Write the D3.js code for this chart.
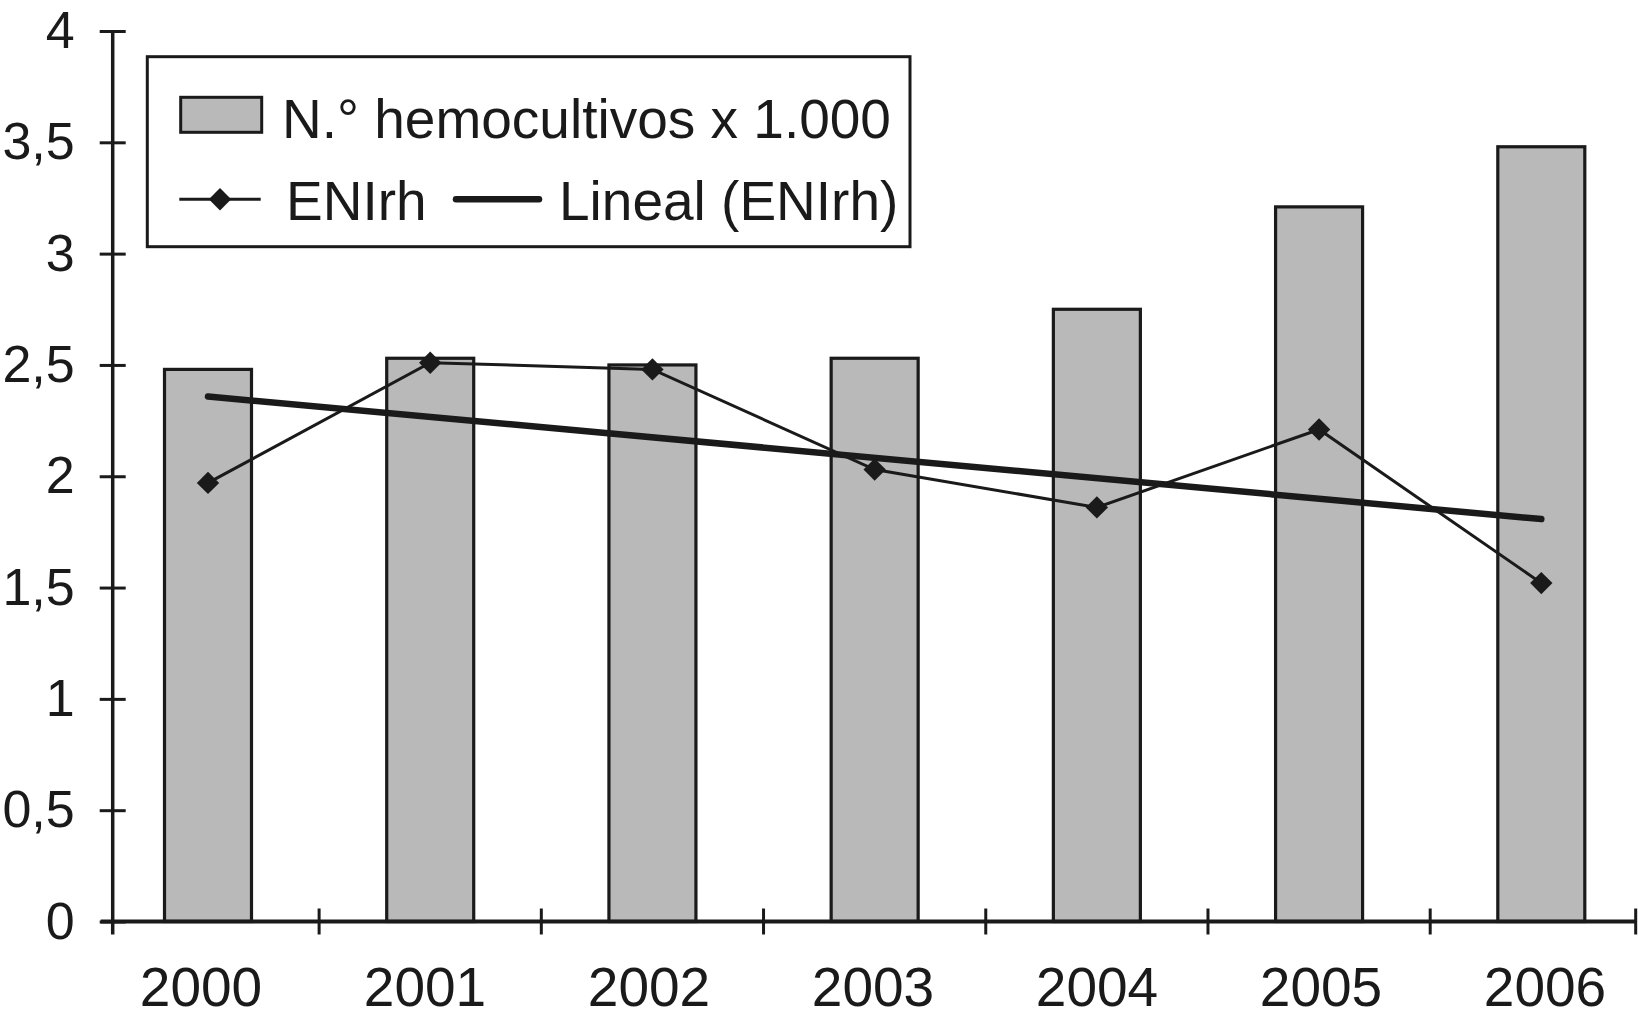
<!DOCTYPE html>
<html>
<head>
<meta charset="utf-8">
<script src="https://cdn.jsdelivr.net/npm/d3@7"></script>
<style>
  html, body { margin: 0; padding: 0; background: #fff; }
  svg { display: block; }
  text { font-family: "Liberation Sans", Arial, sans-serif; fill: #1a1a1a; }
</style>
</head>
<body>
<svg id="chart" width="1638" height="1023"></svg>
<script>
// ---- data ----
const years = ["2000", "2001", "2002", "2003", "2004", "2005", "2006"];
const hemocultivos = [2.48, 2.53, 2.50, 2.53, 2.75, 3.21, 3.48];
const enirh = [1.97, 2.51, 2.48, 2.03, 1.86, 2.21, 1.52];
const yTickValues = [0, 0.5, 1, 1.5, 2, 2.5, 3, 3.5, 4];
const yTickLabels = ["0", "0,5", "1", "1,5", "2", "2,5", "3", "3,5", "4"];
const legendLabels = ["N.° hemocultivos x 1.000", "ENIrh", "Lineal (ENIrh)"];

// ---- layout ----
const ink = "#1a1a1a";
const barFill = "#b9b9b9";
const fontSize = 55;
const yFontSize = 52;
const axisLeftX = 112.7, axisRightX = 1635.7, axisStartX = 100.7;

const svg = d3.select("#chart");

const x = d3.scalePoint().domain(years).range([208, 1541.3]);
const xLabel = d3.scalePoint().domain(years).range([201, 1545]);
const y = d3.scaleLinear().domain([0, 4]).range([921.5, 31]);
const barW = 87;

// bars
svg.append("g").selectAll("rect").data(years).join("rect")
  .attr("x", d => x(d) - barW / 2)
  .attr("y", (d, i) => y(hemocultivos[i]))
  .attr("width", barW)
  .attr("height", (d, i) => y(0) - y(hemocultivos[i]))
  .attr("fill", barFill)
  .attr("stroke", ink)
  .attr("stroke-width", 3.2);

// linear trend (least squares of ENIrh)
const n = enirh.length;
const idx = d3.range(n);
const mx = d3.mean(idx), my = d3.mean(enirh);
const slope = d3.sum(idx, i => (i - mx) * (enirh[i] - my)) / d3.sum(idx, i => (i - mx) * (i - mx));
const intercept = my - slope * mx;
svg.append("line")
  .attr("x1", x(years[0])).attr("y1", y(intercept))
  .attr("x2", x(years[n - 1])).attr("y2", y(intercept + slope * (n - 1)))
  .attr("stroke", ink).attr("stroke-width", 6.5).attr("stroke-linecap", "round");

// ENIrh line
const line = d3.line().x((d, i) => x(years[i])).y(d => y(d));
svg.append("path").datum(enirh)
  .attr("d", line)
  .attr("fill", "none").attr("stroke", ink).attr("stroke-width", 3);

const diamond = d3.symbol().type(d3.symbolSquare).size(250);
svg.append("g").selectAll("path").data(enirh).join("path")
  .attr("d", diamond)
  .attr("transform", (d, i) => `translate(${x(years[i])},${y(d)}) rotate(45)`)
  .attr("fill", ink);

// Y axis
const yAxis = d3.axisLeft(y).tickValues(yTickValues)
  .tickFormat((d, i) => yTickLabels[i]).tickSizeOuter(0).tickSizeInner(13).tickPadding(25);
const gy = svg.append("g").attr("transform", `translate(${axisLeftX},0)`).call(yAxis);
gy.select(".domain").attr("stroke", ink).attr("stroke-width", 3.5)
  .attr("d", `M0,${y(4)}V${y(0) + 13}`);
gy.selectAll(".tick line").attr("stroke", ink).attr("stroke-width", 3).attr("x1", 13).attr("x2", -13);
gy.selectAll(".tick text").attr("font-size", yFontSize).attr("fill", ink)
  .attr("font-family", "'Liberation Sans', Arial, sans-serif").attr("dy", "0.32em");

// X axis
const boundaries = [axisLeftX];
for (let i = 0; i < n - 1; i++) boundaries.push((x(years[i]) + x(years[i + 1])) / 2);
boundaries.push(axisRightX);
const gx = svg.append("g");
gx.append("line").attr("x1", axisStartX).attr("x2", axisRightX)
  .attr("y1", y(0)).attr("y2", y(0)).attr("stroke", ink).attr("stroke-width", 4);
gx.selectAll("line.tk").data(boundaries.slice(1)).join("line").attr("class", "tk")
  .attr("x1", d => d).attr("x2", d => d)
  .attr("y1", y(0) - 13).attr("y2", y(0) + 13)
  .attr("stroke", ink).attr("stroke-width", 3);
gx.selectAll("text").data(years).join("text")
  .attr("x", d => xLabel(d)).attr("y", 1006)
  .attr("text-anchor", "middle").attr("font-size", fontSize).text(d => d);

// Legend
const lg = svg.append("g");
lg.append("rect").attr("x", 147.3).attr("y", 56.7).attr("width", 762.7).attr("height", 190)
  .attr("fill", "#fff").attr("stroke", ink).attr("stroke-width", 3);
lg.append("rect").attr("x", 180.7).attr("y", 97.3).attr("width", 81).attr("height", 35)
  .attr("fill", barFill).attr("stroke", ink).attr("stroke-width", 3);
lg.append("text").attr("x", 282).attr("y", 137.5).attr("font-size", fontSize).text(legendLabels[0]);
lg.append("line").attr("x1", 179.3).attr("x2", 260.7).attr("y1", 199.3).attr("y2", 199.3)
  .attr("stroke", ink).attr("stroke-width", 3);
lg.append("path").attr("d", diamond).attr("transform", "translate(220,199.3) rotate(45)").attr("fill", ink);
lg.append("text").attr("x", 286).attr("y", 220).attr("font-size", fontSize).text(legendLabels[1]);
lg.append("line").attr("x1", 456).attr("x2", 539).attr("y1", 199.3).attr("y2", 199.3)
  .attr("stroke", ink).attr("stroke-width", 6.5).attr("stroke-linecap", "round");
lg.append("text").attr("x", 559).attr("y", 220).attr("font-size", fontSize).text(legendLabels[2]);
</script>
</body>
</html>
